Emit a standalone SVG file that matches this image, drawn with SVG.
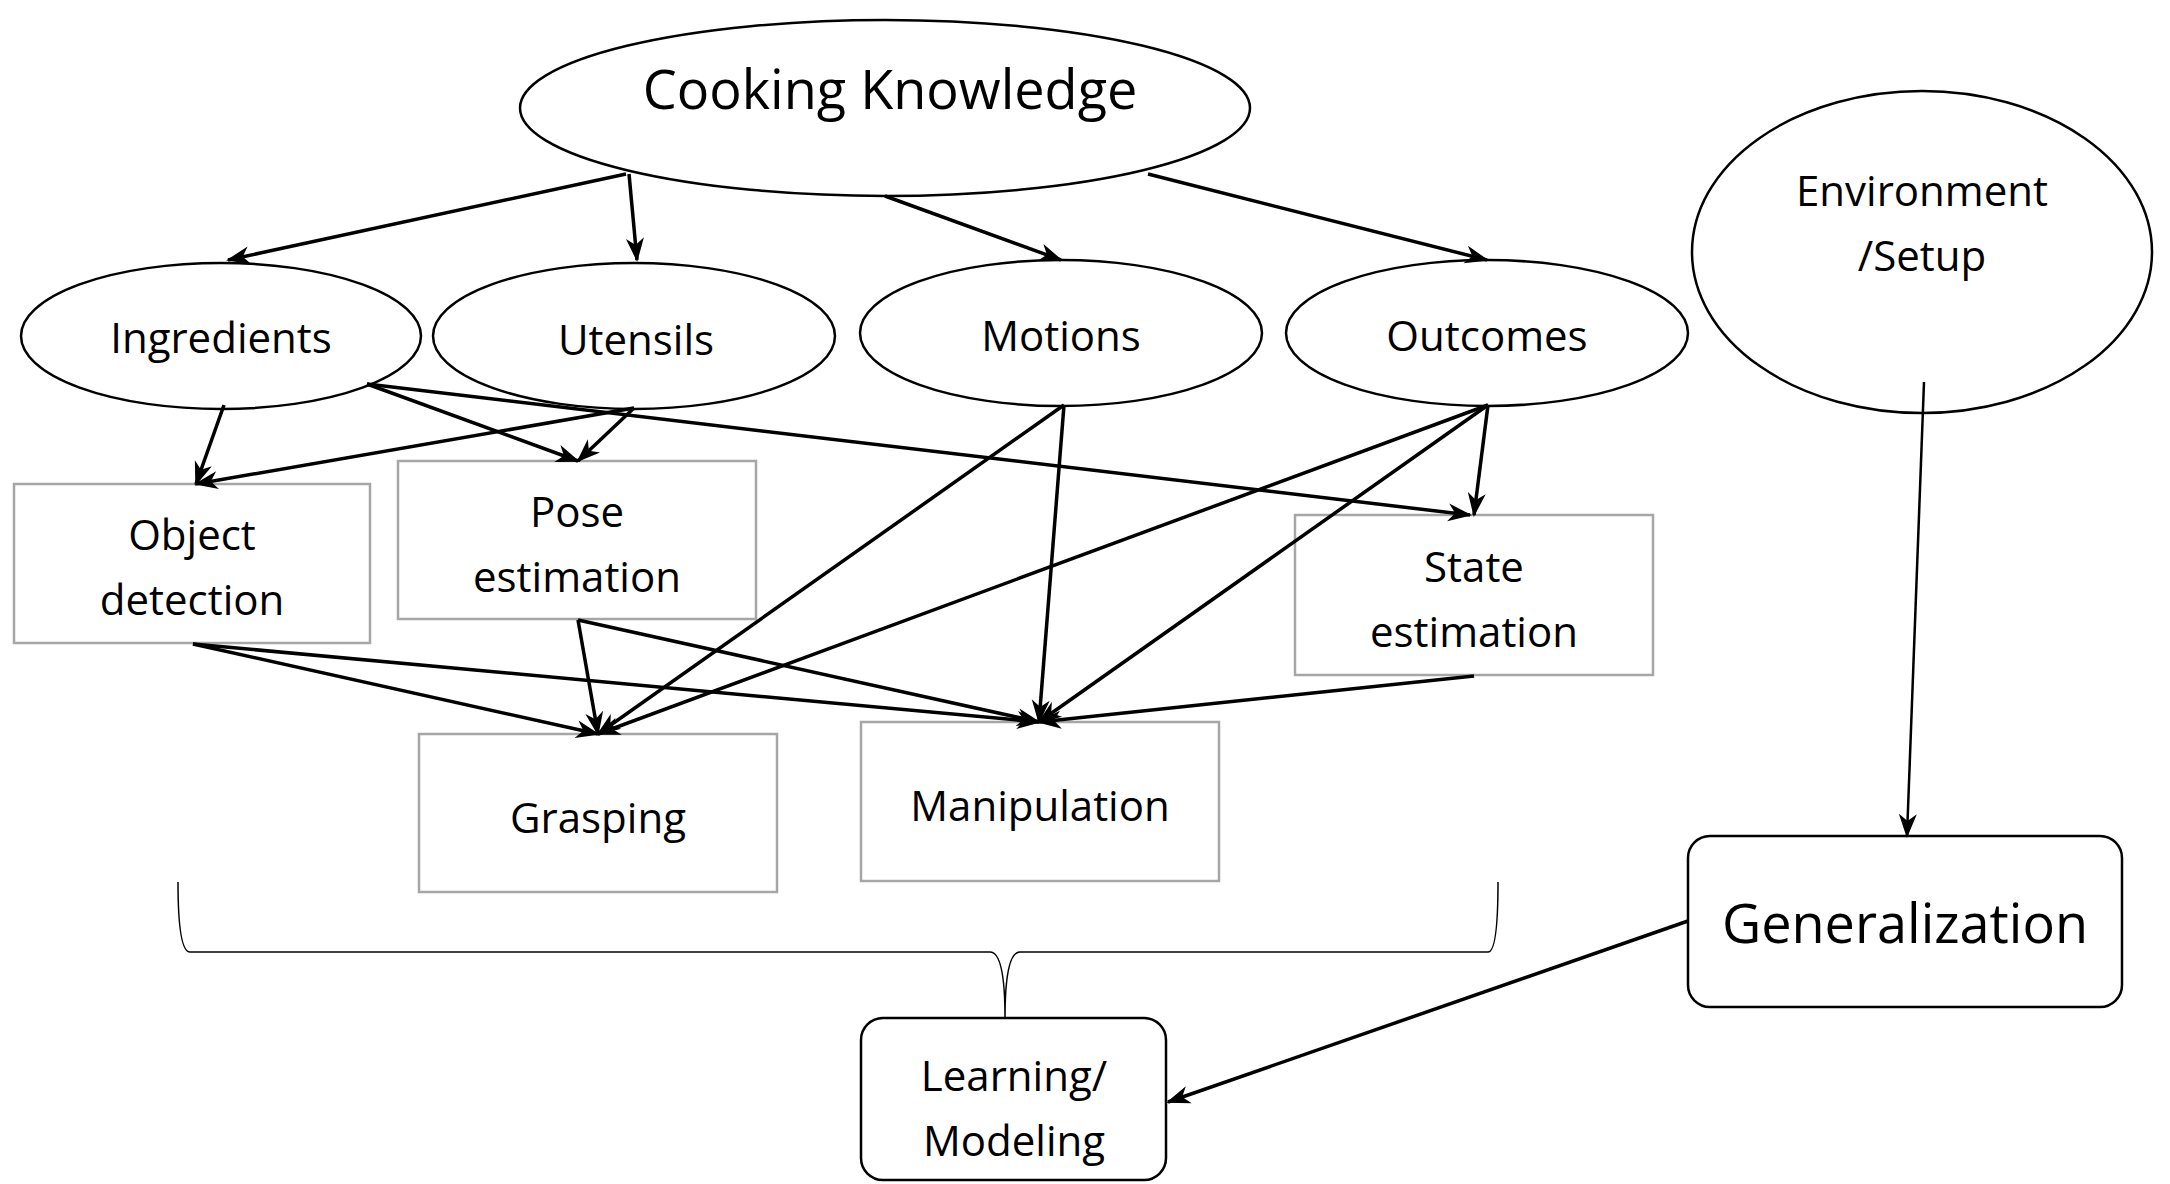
<svg xmlns="http://www.w3.org/2000/svg" width="2170" height="1184" viewBox="0 0 2170 1184">
<style>
text{font-family:"Open Sans","Liberation Sans",sans-serif;fill:#000;text-anchor:middle;dominant-baseline:central}
.e{fill:#fff;stroke:#000;stroke-width:2.5}
.b{fill:#fff;stroke:#a6a6a6;stroke-width:2.5}
.r{fill:#fff;stroke:#000;stroke-width:2.5}
.t{font-size:42px}
</style>
<defs>
<marker id="a" viewBox="0 0 24 20" refX="22" refY="10" markerWidth="24" markerHeight="20" markerUnits="userSpaceOnUse" orient="auto">
<path d="M0,1 L24,10 L0,19 L7,10 Z" fill="#000"/>
</marker>
</defs>
<rect width="2170" height="1184" fill="#fff"/>
<g id="ck"><ellipse class="e" cx="885" cy="108" rx="365" ry="88"/><text x="890" y="88" font-size="54">Cooking Knowledge</text></g>
<g id="ingredients"><ellipse class="e" cx="221" cy="336" rx="200" ry="73"/><text class="t" x="221" y="336">Ingredients</text></g>
<g id="utensils"><ellipse class="e" cx="634" cy="336" rx="201" ry="73"/><text class="t" x="636" y="338">Utensils</text></g>
<g id="motions"><ellipse class="e" cx="1061" cy="333" rx="201" ry="73"/><text class="t" x="1061" y="334">Motions</text></g>
<g id="outcomes"><ellipse class="e" cx="1487" cy="333" rx="201" ry="73"/><text class="t" x="1487" y="334">Outcomes</text></g>
<g id="env"><ellipse class="e" cx="1922" cy="252" rx="230" ry="161"/><text class="t" x="1922" y="189">Environment</text><text class="t" x="1922" y="254">/Setup</text></g>
<g id="objdet"><rect class="b" x="14" y="484" width="356" height="159"/><text class="t" x="192" y="533">Object</text><text class="t" x="192" y="598">detection</text></g>
<g id="pose"><rect class="b" x="398" y="461" width="358" height="158"/><text class="t" x="577" y="510">Pose</text><text class="t" x="577" y="575">estimation</text></g>
<g id="state"><rect class="b" x="1295" y="515" width="358" height="160"/><text class="t" x="1474" y="565">State</text><text class="t" x="1474" y="630">estimation</text></g>
<g id="grasping"><rect class="b" x="419" y="734" width="358" height="158"/><text class="t" x="598" y="816">Grasping</text></g>
<g id="manip"><rect class="b" x="861" y="722" width="358" height="159"/><text class="t" x="1040" y="804">Manipulation</text></g>
<g id="gen"><rect class="r" x="1688" y="836" width="434" height="171" rx="22"/><text x="1905" y="922" font-size="54">Generalization</text></g>
<g id="learn"><rect class="r" x="861" y="1018" width="305" height="162" rx="22"/><text class="t" x="1014" y="1074">Learning/</text><text class="t" x="1014" y="1139">Modeling</text></g>
<g id="brace"><path d="M178,882 Q178,952 190,952 L990,952 Q1005,952 1005,1018 Q1005,952 1020,952 L1488,952 Q1498,952 1498,882" fill="none" stroke="#000" stroke-width="1.5"/></g>
<g id="connectors" stroke="#000" stroke-width="3.5" marker-end="url(#a)">
<line x1="626" y1="174" x2="228" y2="260"/>
<line x1="629" y1="174" x2="637" y2="260"/>
<line x1="885" y1="196" x2="1061" y2="260"/>
<line x1="1148" y1="174" x2="1487" y2="260"/>
<line x1="224" y1="405" x2="196" y2="484"/>
<line x1="367" y1="384" x2="578" y2="461"/>
<line x1="367" y1="384" x2="1470" y2="515"/>
<line x1="634" y1="408" x2="196" y2="484"/>
<line x1="634" y1="408" x2="578" y2="461"/>
<line x1="1064" y1="405" x2="598" y2="734"/>
<line x1="1064" y1="405" x2="1039" y2="722"/>
<line x1="1488" y1="405" x2="598" y2="734"/>
<line x1="1488" y1="405" x2="1039" y2="722"/>
<line x1="1488" y1="405" x2="1474" y2="515"/>
<line x1="193" y1="644" x2="598" y2="734"/>
<line x1="193" y1="644" x2="1039" y2="722"/>
<line x1="578" y1="620" x2="598" y2="734"/>
<line x1="578" y1="620" x2="1039" y2="722"/>
<line x1="1474" y1="676" x2="1039" y2="722"/>
<line x1="1924" y1="382" x2="1907" y2="836" stroke-width="2.5"/>
<line x1="1688" y1="921" x2="1168" y2="1102"/>
</g>
</svg>
